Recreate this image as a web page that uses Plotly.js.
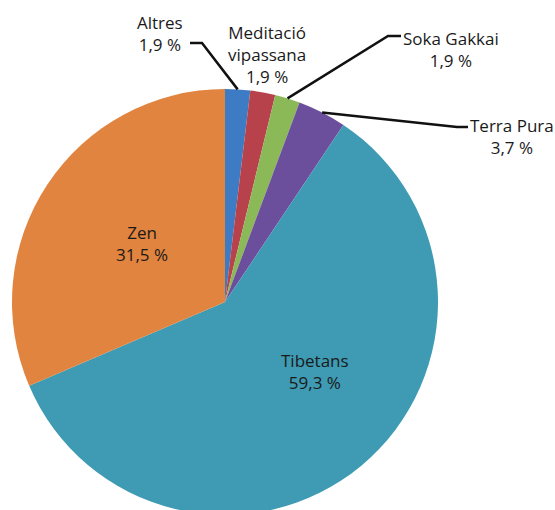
<!DOCTYPE html>
<html>
<head>
<meta charset="utf-8">
<script src="https://cdn.plot.ly/plotly-3.0.1.min.js"></script>
<style>
html,body{margin:0;padding:0;overflow:hidden;background:#fff;}
#chart{width:555px;height:520px;}
</style>
</head>
<body>
<div id="chart"></div>
<script>
// Data
var categories = ["Altres", "Meditació vipassana", "Soka Gakkai", "Terra Pura", "Tibetans", "Zen"];
var displayLabels = ["Altres", "Meditació<br>vipassana", "Soka Gakkai", "Terra Pura", "Tibetans", "Zen"];
var values = [1.9, 1.9, 1.9, 3.7, 59.3, 31.5];
var colors = ["#3d7cc4", "#b8424c", "#8cb957", "#6c4f9c", "#3e9bb3", "#e0843f"];

// Layout geometry (pixels)
var W = 555, H = 520;
var cx = 225, cy = 302, R = 213;
function px(x){ return x / W; }
function py(y){ return 1 - y / H; }

// label block centres and leader line elbows (pixels)
var labelPos = [
  {x:160, y:33, line:[[190,43],[202,43]]},
  {x:267, y:55, line:null},
  {x:451, y:49, line:[[401,36],[388,36]]},
  {x:512, y:137, line:[[468,127],[457,127]]},
  {x:315, y:371, line:null},
  {x:142, y:243, line:null}
];

var total = values.reduce(function(a,b){return a+b;}, 0);
var cum = 0;
var annotations = [], shapes = [];
values.forEach(function(v, i){
  var mid = (cum + v/2) / total * 2 * Math.PI;
  cum += v;
  var ax = cx + R * Math.sin(mid), ay = cy - R * Math.cos(mid);
  var txt = displayLabels[i] + "<br>" + v.toFixed(1).replace('.', ',') + " %";
  annotations.push({
    x: px(labelPos[i].x), y: py(labelPos[i].y), xref:'paper', yref:'paper',
    xanchor:'center', yanchor:'middle', showarrow:false, align:'center',
    text: txt, font:{family:'Open Sans, sans-serif', size:17, color:'#1a1a1a'}
  });
  if (labelPos[i].line) {
    var p = labelPos[i].line;
    var path = 'M ' + px(p[0][0]) + ' ' + py(p[0][1]) +
               ' L ' + px(p[1][0]) + ' ' + py(p[1][1]) +
               ' L ' + px(ax) + ' ' + py(ay);
    shapes.push({type:'path', xref:'paper', yref:'paper', path:path,
      line:{color:'#111111', width:2.5}});
  }
});

var trace = {
  type:'pie',
  labels: categories,
  values: values,
  sort:false,
  direction:'clockwise',
  rotation:0,
  textinfo:'none',
  hoverinfo:'label+percent',
  marker:{colors:colors, line:{width:0}},
  domain:{x:[px(cx-R), px(cx+R)], y:[py(cy+R), py(cy-R)]},
  showlegend:false
};

var layout = {
  width:W, height:H,
  margin:{l:0, r:0, t:0, b:0},
  paper_bgcolor:'#ffffff',
  showlegend:false,
  annotations: annotations,
  shapes: shapes
};

Plotly.newPlot('chart', [trace], layout, {displayModeBar:false, staticPlot:true});
</script>
</body>
</html>
